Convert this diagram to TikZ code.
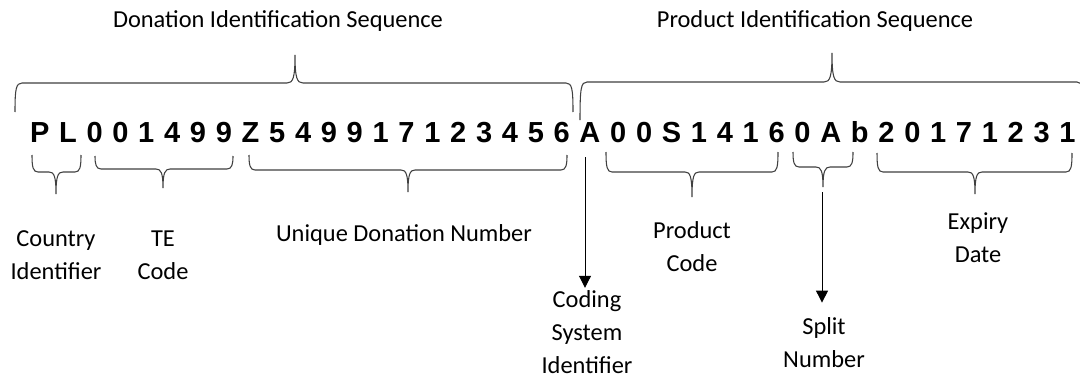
\documentclass[tikz,border=0pt]{standalone}
\usepackage{fontspec}
\usetikzlibrary{arrows.meta}
\newfontfamily\labfontfam{Carlito}
\newfontfamily\seqfontfam{Liberation Sans}
\newcommand{\labfont}{\labfontfam\fontsize{18.3}{24.6}\selectfont}
\newcommand{\seqfont}{\seqfontfam\bfseries\fontsize{21.75}{26}\selectfont}
% top brace: x1, x2, xm, y-end, y-horizontal, y-tip
\newcommand{\topbrace}[6]{%
  \draw[bracestyle] (#1,#4) .. controls (#1,#5+6) and (#1+1,#5) .. (#1+7,#5)
    -- (#3-8,#5) .. controls (#3-2,#5) and (#3,#5-5) .. (#3,#6)
    .. controls (#3,#5-5) and (#3+2,#5) .. (#3+8,#5)
    -- (#2-7,#5) .. controls (#2-1,#5) and (#2,#5+6) .. (#2,#4);}
% bottom brace
\newcommand{\botbrace}[6]{%
  \draw[bracestyle] (#1,#4) .. controls (#1,#5-5) and (#1+1,#5) .. (#1+6,#5)
    -- (#3-7,#5) .. controls (#3-2,#5) and (#3,#5+4) .. (#3,#6)
    .. controls (#3,#5+4) and (#3+2,#5) .. (#3+7,#5)
    -- (#2-6,#5) .. controls (#2-1,#5) and (#2,#5-5) .. (#2,#4);}
\begin{document}
\begin{tikzpicture}[x=0.75pt,y=-0.75pt,
  bracestyle/.style={draw=black!75,line width=0.8pt},
  ch/.style={inner sep=0pt,outer sep=0pt,font=\seqfont,anchor=base west},
  lab/.style={inner sep=0pt,outer sep=0pt,font=\labfont,align=center,anchor=base},
  arr/.style={draw=black,line width=0.75pt,-{Triangle[width=9pt,length=9pt]}}]
\clip (0,0) rectangle (1080,378);
\fill[white] (0,0) rectangle (1080,378);
% character sequence
\node[ch] (c1) at (30,142) {P};
\foreach \c [count=\i from 2, remember=\i as \j (initially 1)] in
  {L,0,0,1,4,9,9,Z,5,4,9,9,1,7,1,2,3,4,5,6,A,0,0,S,1,4,1,6,0,A,b,2,0,1,7,1,2,3,1}
  \node[ch] (c\i) at ([xshift=7.3pt]c\j.base east) {\c};
% top labels
\node[lab] (dis) at (278,28) {Donation Identification Sequence};
\node[lab] (pis) at (815,28) {Product Identification Sequence};
\topbrace{15}{573}{295}{112}{83}{55}
\topbrace{580}{1084}{832}{120}{82}{53}
% bottom braces
\botbrace{32}{81}{56}{155}{172}{194}
\botbrace{95}{233}{163}{156}{169}{188}
\botbrace{249}{567}{408}{155}{170}{192}
\botbrace{606}{778}{692}{152}{172}{197}
\botbrace{793}{853}{823}{152}{167}{187}
\botbrace{877}{1072}{975}{153}{172}{194}
% bottom labels (anchor = baseline of last line)
\node[lab] (ci) at (56,279) {Country\\Identifier};
\node[lab] (te) at (163,279) {TE\\Code};
\node[lab] (udn) at (404,241) {Unique Donation Number};
\node[lab] (pc) at (692,271) {Product\\Code};
\node[lab] (ed) at (978,262) {Expiry\\Date};
\node[lab] (csi) at (587,373) {Coding\\System\\Identifier};
\node[lab] (sn) at (824,367) {Split\\Number};
% arrows
\coordinate (csa) at (585,157);
\coordinate (sna) at (822,192);
\draw[arr,shorten >=2pt] (csa) -- (csa |- csi.north);
\draw[arr,shorten >=11pt] (sna) -- (sna |- sn.north);
\end{tikzpicture}
\end{document}
